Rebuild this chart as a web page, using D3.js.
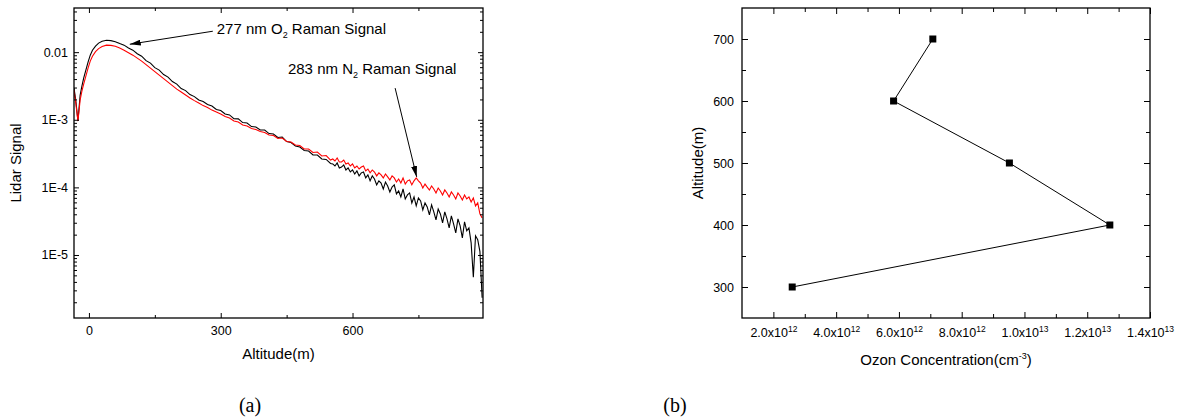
<!DOCTYPE html>
<html>
<head>
<meta charset="utf-8">
<script src="https://cdn.jsdelivr.net/npm/d3@7"></script>
<style>
  body { margin: 0; background: #fff; }
  svg { display: block; }
  text { font-family: "Liberation Sans", Arial, sans-serif; fill: #000; }
  .axis path { display: none; }
  .axis line { stroke: #000; stroke-width: 1; }
  .axis text { font-size: 12.5px; }
  .frame { fill: none; stroke: #000; stroke-width: 1.3; }
  .label { font-size: 15px; }
  .caption { font-family: "Liberation Serif", serif; font-size: 20px; }
</style>
</head>
<body>
<svg id="fig" width="1177" height="418"></svg>
<script>
// ---- (a) lidar returns ----
const altitude = [-34,-30,-25,-20,-16,-12,-7,-2,3,8,15,22,30,40,50,60,70,80,90,100,
  110,120,130,140,150,160,170,180,190,200,210,220,230,240,250,260,270,280,290,300,
  310,320,330,340,350,360,370,380,390,400,410,420,430,440,450,460,470,480,490,500,
  510,520,530,540,550,555,560,565,570,575,580,585,590,595,600,605,610,615,620,625,
  630,635,640,645,650,655,660,665,670,675,680,685,690,695,700,705,710,715,720,725,
  730,735,740,745,750,755,760,765,770,775,780,785,790,795,800,805,810,815,820,825,
  830,835,840,845,850,855,860,865,870,875,880,885,890,895];

// 277 nm O2 Raman (black)
const o2Signal = [2.94e-3,1.96e-3,9.57e-4,2.32e-3,3.15e-3,4.13e-3,5.43e-3,7.12e-3,9.03e-3,1.07e-2,1.23e-2,1.36e-2,1.45e-2,1.50e-2,1.48e-2,1.43e-2,1.34e-2,1.27e-2,1.15e-2,1.07e-2,
  9.50e-3,8.73e-3,7.49e-3,6.88e-3,5.91e-3,5.43e-3,4.66e-3,4.28e-3,3.67e-3,3.37e-3,2.89e-3,2.70e-3,2.36e-3,2.20e-3,1.96e-3,1.86e-3,1.68e-3,1.60e-3,1.42e-3,1.37e-3,
  1.22e-3,1.18e-3,1.04e-3,1.03e-3,9.09e-4,8.94e-4,7.93e-4,7.80e-4,7.05e-4,7.05e-4,6.25e-4,6.15e-4,5.46e-4,5.55e-4,4.77e-4,4.61e-4,4.09e-4,3.95e-4,3.51e-4,3.45e-4,
  3.01e-4,3.01e-4,2.63e-4,2.59e-4,2.26e-4,2.22e-4,2.07e-4,2.30e-4,1.94e-4,2.00e-4,2.15e-4,1.81e-4,1.94e-4,1.69e-4,1.81e-4,1.58e-4,1.75e-4,1.48e-4,1.64e-4,1.69e-4,
  1.38e-4,1.53e-4,1.25e-4,1.48e-4,1.33e-4,1.09e-4,1.25e-4,1.16e-4,9.47e-5,1.20e-4,1.05e-4,8.56e-5,1.01e-4,1.09e-4,8.0e-5,8.85e-5,7.22e-5,9.47e-5,6.75e-5,7.73e-5,
  8.27e-5,5.89e-5,7.22e-5,5.32e-5,6.98e-5,6.30e-5,4.64e-5,5.89e-5,5.14e-5,3.92e-5,5.50e-5,4.34e-5,3.31e-5,4.80e-5,4.05e-5,2.99e-5,4.34e-5,3.42e-5,2.52e-5,3.79e-5,
  2.89e-5,2.13e-5,3.42e-5,2.70e-5,1.79e-5,3.09e-5,2.28e-5,2.52e-5,1.51e-5,4.7e-6,1.92e-5,1.68e-5,1.12e-5,2.33e-6];

// 283 nm N2 Raman (red)
const n2Signal = [2.75e-3,1.77e-3,9.57e-4,1.96e-3,2.66e-3,3.37e-3,4.42e-3,5.81e-3,7.37e-3,8.73e-3,1.02e-2,1.13e-2,1.21e-2,1.27e-2,1.26e-2,1.22e-2,1.15e-2,1.07e-2,9.83e-3,9.03e-3,
  8.16e-3,7.37e-3,6.54e-3,5.81e-3,5.15e-3,4.58e-3,4.06e-3,3.61e-3,3.20e-3,2.84e-3,2.57e-3,2.32e-3,2.10e-3,1.92e-3,1.77e-3,1.62e-3,1.52e-3,1.39e-3,1.30e-3,1.22e-3,
  1.12e-3,1.06e-3,9.57e-4,9.25e-4,8.35e-4,8.07e-4,7.41e-4,7.17e-4,6.70e-4,6.47e-4,5.95e-4,5.85e-4,5.28e-4,5.37e-4,4.77e-4,4.69e-4,4.23e-4,4.16e-4,3.69e-4,3.69e-4,
  3.28e-4,3.34e-4,2.91e-4,2.96e-4,2.54e-4,2.63e-4,2.46e-4,2.72e-4,2.38e-4,2.38e-4,2.54e-4,2.22e-4,2.30e-4,2.07e-4,2.22e-4,1.94e-4,2.07e-4,1.87e-4,2.00e-4,2.07e-4,
  1.75e-4,1.87e-4,1.64e-4,1.81e-4,1.69e-4,1.48e-4,1.64e-4,1.53e-4,1.38e-4,1.58e-4,1.43e-4,1.29e-4,1.48e-4,1.38e-4,1.20e-4,1.33e-4,1.16e-4,1.38e-4,1.12e-4,1.25e-4,
  1.29e-4,1.09e-4,1.25e-4,1.38e-4,1.25e-4,1.16e-4,9.80e-5,1.12e-4,1.01e-4,9.16e-5,1.05e-4,9.47e-5,8.27e-5,9.80e-5,8.85e-5,7.73e-5,9.16e-5,8.27e-5,7.22e-5,8.56e-5,
  7.73e-5,6.75e-5,8.27e-5,7.47e-5,6.52e-5,7.73e-5,6.75e-5,7.22e-5,6.09e-5,6.98e-5,5.32e-5,5.89e-5,4.05e-5,3.54e-5];

const logTicks = [1e-5, 1e-4, 1e-3, 1e-2];
const logTickLabels = ["1E-5", "1E-4", "1E-3", "0.01"];
const altTicks = [0, 300, 600];
const altMinorTicks = [150, 450, 750];

// ---- (b) ozone profile ----
const ozoneAltitude = [300, 400, 500, 600, 700];
const ozoneConc = [2.6e12, 1.272e13, 9.52e12, 5.83e12, 7.08e12];
const concTicks = [2e12, 4e12, 6e12, 8e12, 1e13, 1.2e13, 1.4e13];
const concTickMantissa = ["2.0", "4.0", "6.0", "8.0", "1.0", "1.2", "1.4"];
const concTickExp = ["12", "12", "12", "12", "13", "13", "13"];
const concMinorTicks = [3e12, 5e12, 7e12, 9e12, 1.1e13, 1.3e13];
const ozAltTicks = [300, 400, 500, 600, 700];
const ozAltMinorTicks = [350, 450, 550, 650];

const svg = d3.select("#fig");

svg.append("defs").append("marker")
    .attr("id", "arrow")
    .attr("markerUnits", "userSpaceOnUse")
    .attr("markerWidth", 11).attr("markerHeight", 6)
    .attr("refX", 11).attr("refY", 3)
    .attr("orient", "auto")
  .append("path")
    .attr("d", "M0,0 L11,3 L0,6 Z")
    .attr("fill", "#000");

function addAxis(g, axis, tx, ty) {
  return g.append("g")
      .attr("class", "axis")
      .attr("transform", `translate(${tx},${ty})`)
      .call(axis);
}

// ================= panel (a) =================
const A = {left: 74, right: 483, top: 8, bottom: 318};
const xA = d3.scaleLinear().domain([-34, 897]).range([A.left, A.right]);
const yA = d3.scaleLog().domain([1.17e-6, 0.045]).range([A.bottom, A.top]);
const logMinor = yA.ticks().filter(d => !logTicks.some(t => Math.abs(t - d) / t < 1e-6));

const gA = svg.append("g");
gA.append("clipPath").attr("id", "clipA").append("rect")
    .attr("x", A.left).attr("y", A.top)
    .attr("width", A.right - A.left).attr("height", A.bottom - A.top);

const lineA = (vals) => d3.line()
    .x((d, i) => xA(altitude[i]))
    .y(d => yA(d))(vals);

gA.append("path")
    .attr("d", lineA(o2Signal))
    .attr("clip-path", "url(#clipA)")
    .attr("fill", "none").attr("stroke", "#000").attr("stroke-width", 1.1);

gA.append("path")
    .attr("d", lineA(n2Signal))
    .attr("clip-path", "url(#clipA)")
    .attr("fill", "none").attr("stroke", "#ff0000").attr("stroke-width", 1.1);

// axes
addAxis(gA, d3.axisLeft(yA).tickValues(logTicks).tickFormat((d, i) => logTickLabels[i])
    .tickSizeInner(-5).tickSizeOuter(0).tickPadding(6), A.left, 0);
addAxis(gA, d3.axisLeft(yA).tickValues(logMinor).tickFormat("")
    .tickSizeInner(-3).tickSizeOuter(0), A.left, 0);
addAxis(gA, d3.axisRight(yA).tickValues(logTicks).tickFormat("")
    .tickSizeInner(-5).tickSizeOuter(0), A.right, 0);
addAxis(gA, d3.axisRight(yA).tickValues(logMinor).tickFormat("")
    .tickSizeInner(-3).tickSizeOuter(0), A.right, 0);
addAxis(gA, d3.axisBottom(xA).tickValues(altTicks).tickFormat(d3.format("d"))
    .tickSizeInner(-5).tickSizeOuter(0).tickPadding(8), 0, A.bottom);
addAxis(gA, d3.axisBottom(xA).tickValues(altMinorTicks).tickFormat("")
    .tickSizeInner(-3).tickSizeOuter(0), 0, A.bottom);
addAxis(gA, d3.axisTop(xA).tickValues(altTicks).tickFormat("")
    .tickSizeInner(-5).tickSizeOuter(0), 0, A.top);
addAxis(gA, d3.axisTop(xA).tickValues(altMinorTicks).tickFormat("")
    .tickSizeInner(-3).tickSizeOuter(0), 0, A.top);

gA.append("rect").attr("class", "frame")
    .attr("x", A.left).attr("y", A.top)
    .attr("width", A.right - A.left).attr("height", A.bottom - A.top);

gA.append("text").attr("class", "label")
    .attr("x", (A.left + A.right) / 2).attr("y", 359)
    .attr("text-anchor", "middle").text("Altitude(m)");
gA.append("text").attr("class", "label")
    .attr("transform", `translate(21,${(A.top + A.bottom) / 2}) rotate(-90)`)
    .attr("text-anchor", "middle").text("Lidar Signal");

// annotations (data coordinates)
const notes = [
  {pre: "277 nm O", sub: "2", post: " Raman Signal", tx: 291, ty: 1.87e-2,
   from: [282, 2.04e-2], to: [93, 1.31e-2]},
  {pre: "283 nm N", sub: "2", post: " Raman Signal", tx: 453, ty: 4.73e-3,
   from: [697, 2.94e-3], to: [746, 1.43e-4]}
];
notes.forEach(n => {
  const t = gA.append("text").attr("class", "label")
      .attr("x", xA(n.tx)).attr("y", yA(n.ty));
  t.append("tspan").text(n.pre);
  t.append("tspan").attr("font-size", "9px").attr("dy", 4).text(n.sub);
  t.append("tspan").attr("dy", -4).text(n.post);
  gA.append("line")
      .attr("x1", xA(n.from[0])).attr("y1", yA(n.from[1]))
      .attr("x2", xA(n.to[0])).attr("y2", yA(n.to[1]))
      .attr("stroke", "#000").attr("stroke-width", 1)
      .attr("marker-end", "url(#arrow)");
});

// ================= panel (b) =================
const B = {left: 742, right: 1150, top: 8, bottom: 318};
const xB = d3.scaleLinear().domain([1e12, 1.4e13]).range([B.left, B.right]);
const yB = d3.scaleLinear().domain([250, 750]).range([B.bottom, B.top]);

const gB = svg.append("g");

addAxis(gB, d3.axisLeft(yB).tickValues(ozAltTicks).tickFormat(d3.format("d"))
    .tickSizeInner(-6).tickSizeOuter(0).tickPadding(8), B.left, 0);
addAxis(gB, d3.axisLeft(yB).tickValues(ozAltMinorTicks).tickFormat("")
    .tickSizeInner(-4).tickSizeOuter(0), B.left, 0);
addAxis(gB, d3.axisRight(yB).tickValues(ozAltTicks).tickFormat("")
    .tickSizeInner(-6).tickSizeOuter(0), B.right, 0);
addAxis(gB, d3.axisRight(yB).tickValues(ozAltMinorTicks).tickFormat("")
    .tickSizeInner(-4).tickSizeOuter(0), B.right, 0);
const xAxisB = addAxis(gB, d3.axisBottom(xB).tickValues(concTicks).tickFormat("")
    .tickSizeInner(-6).tickSizeOuter(0).tickPadding(8), 0, B.bottom);
addAxis(gB, d3.axisBottom(xB).tickValues(concMinorTicks).tickFormat("")
    .tickSizeInner(-4).tickSizeOuter(0), 0, B.bottom);
addAxis(gB, d3.axisTop(xB).tickValues(concTicks).tickFormat("")
    .tickSizeInner(-6).tickSizeOuter(0), 0, B.top);
addAxis(gB, d3.axisTop(xB).tickValues(concMinorTicks).tickFormat("")
    .tickSizeInner(-4).tickSizeOuter(0), 0, B.top);

// tick labels with superscript exponent
xAxisB.selectAll(".tick text").each(function(d, i) {
  const t = d3.select(this).text(null).attr("dy", null).attr("y", 19);
  t.append("tspan").text(concTickMantissa[i] + "x10");
  t.append("tspan").attr("font-size", "8.5px").attr("dy", -5).text(concTickExp[i]);
});

gB.append("rect").attr("class", "frame")
    .attr("x", B.left).attr("y", B.top)
    .attr("width", B.right - B.left).attr("height", B.bottom - B.top);

const ozone = ozoneAltitude.map((a, i) => ({alt: a, c: ozoneConc[i]}));
gB.append("path")
    .datum(ozone)
    .attr("d", d3.line().x(d => xB(d.c)).y(d => yB(d.alt)))
    .attr("fill", "none").attr("stroke", "#000").attr("stroke-width", 1);
gB.selectAll(".pt").data(ozone).join("rect")
    .attr("class", "pt")
    .attr("x", d => xB(d.c) - 3.5).attr("y", d => yB(d.alt) - 3.5)
    .attr("width", 7).attr("height", 7).attr("fill", "#000");

const xl = gB.append("text").attr("class", "label")
    .attr("x", (B.left + B.right) / 2).attr("y", 365).attr("text-anchor", "middle");
xl.append("tspan").text("Ozon Concentration(cm");
xl.append("tspan").attr("font-size", "9px").attr("dy", -6).text("-3");
xl.append("tspan").attr("dy", 6).text(")");

gB.append("text").attr("class", "label")
    .attr("transform", `translate(703,${(B.top + B.bottom) / 2}) rotate(-90)`)
    .attr("text-anchor", "middle").text("Altitude(m)");

// captions
svg.append("text").attr("class", "caption").attr("x", 250).attr("y", 412)
    .attr("text-anchor", "middle").text("(a)");
svg.append("text").attr("class", "caption").attr("x", 675).attr("y", 412)
    .attr("text-anchor", "middle").text("(b)");
</script>
</body>
</html>
